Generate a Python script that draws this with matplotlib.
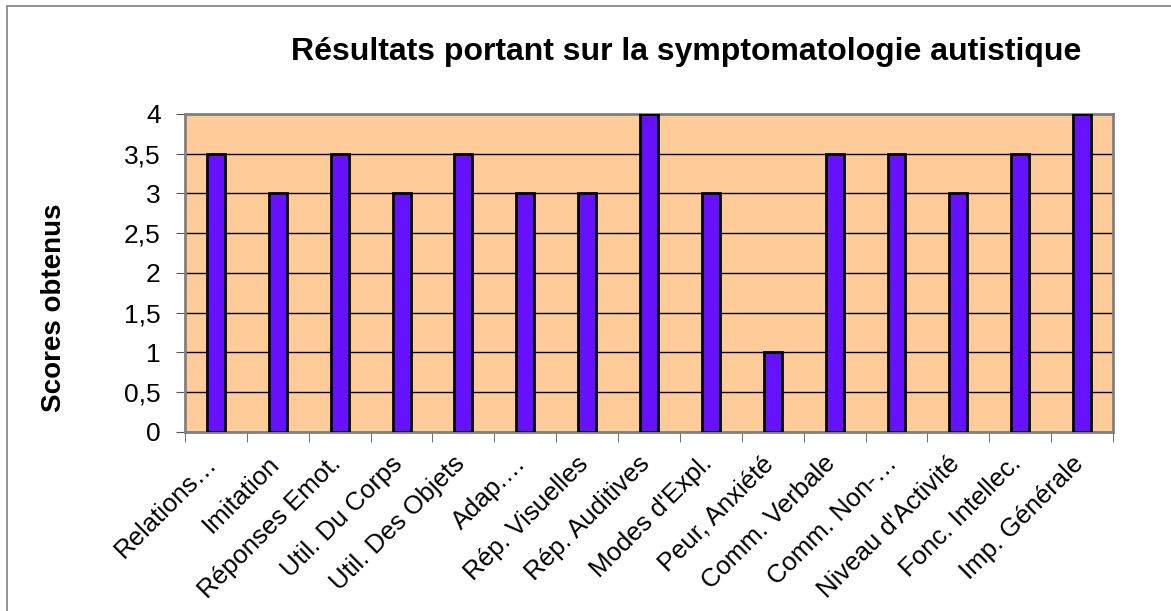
import numpy as np
import matplotlib.pyplot as plt
import matplotlib.transforms as mtransforms
from matplotlib.patches import Rectangle

plt.rcParams['font.family'] = ['Liberation Sans', 'DejaVu Sans']

categories = ['Relations…', 'Imitation', 'Réponses Emot.', 'Util. Du Corps',
              'Util. Des Objets', 'Adap.…', 'Rép. Visuelles', 'Rép. Auditives',
              "Modes d'Expl.", 'Peur, Anxiété', 'Comm. Verbale', 'Comm. Non-…',
              "Niveau d'Activité", 'Fonc. Intellec.', 'Imp. Générale']
scores = [3.5, 3, 3.5, 3, 3.5, 3, 3, 4, 3, 1, 3.5, 3.5, 3, 3.5, 4]
yticks = [0, 0.5, 1, 1.5, 2, 2.5, 3, 3.5, 4]
ytick_labels = ['0', '0,5', '1', '1,5', '2', '2,5', '3', '3,5', '4']

fig = plt.figure(figsize=(11.71, 6.11), dpi=100)
# cadre gris du graphique
fig.patches.append(Rectangle((0.006, -0.01), 1.2, 1.0, transform=fig.transFigure,
                             fill=False, edgecolor='#7f7f7f', linewidth=1.2))

ax = fig.add_axes([0.158, 0.293, 0.7925, 0.5205])
ax.set_facecolor('#FFCC99')
x = np.arange(len(categories))
ax.bar(x, scores, width=0.29, color='#6611FF', edgecolor='black', linewidth=2, zorder=3)

ax.set_xlim(-0.5, len(categories) - 0.5)
ax.set_ylim(0, 4)
ax.set_yticks(yticks)
ax.set_yticklabels(ytick_labels, fontsize=19)
ax.yaxis.grid(True, color='black', linewidth=1, zorder=1)
ax.set_axisbelow(True)

ax.set_xticks(x)
ax.set_xticklabels(categories, rotation=45, ha='right', rotation_mode='anchor', fontsize=18.5)
ax.tick_params(axis='x', length=0, pad=14)
# décalage des étiquettes vers la gauche
offset = mtransforms.ScaledTranslation(-8 / 72, 0, fig.dpi_scale_trans)
for lab in ax.get_xticklabels():
    lab.set_transform(lab.get_transform() + offset)
ax.set_xticks(np.arange(len(categories) + 1) - 0.5, minor=True)
ax.tick_params(axis='x', which='minor', length=7, direction='out', color='#555555')
ax.tick_params(axis='y', length=6.5, direction='out', color='#555555', pad=11)

for s in ax.spines.values():
    s.set_color('#808080')
    s.set_linewidth(2)

fig.text(0.046, 0.497, 'Scores obtenus', rotation=90, ha='center', va='center',
         fontsize=20, fontweight='bold')
fig.text(0.586, 0.915, 'Résultats portant sur la symptomatologie autistique',
         ha='center', va='center', fontsize=23, fontweight='bold')

fig.savefig('out.png', dpi=100)
